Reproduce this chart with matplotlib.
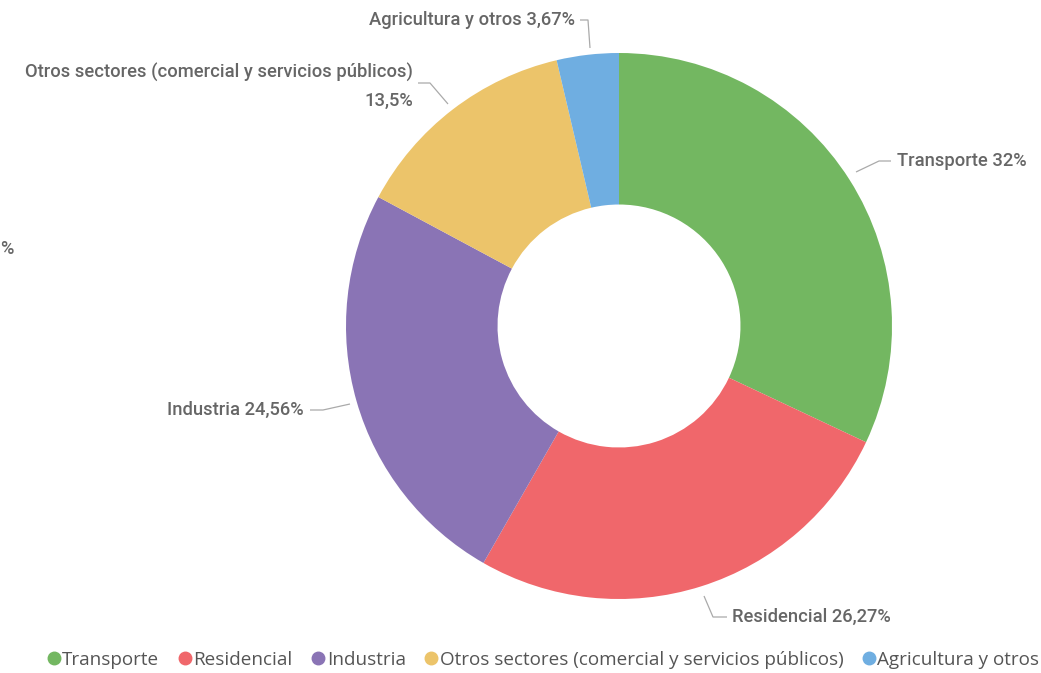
import matplotlib.pyplot as plt
from matplotlib.lines import Line2D

# data
sectors = ['Transporte', 'Residencial', 'Industria',
           'Otros sectores (comercial y servicios públicos)', 'Agricultura y otros']
shares = [32, 26.27, 24.56, 13.5, 3.67]
share_labels = ['32%', '26,27%', '24,56%', '13,5%', '3,67%']
colors = ['#73B761', '#F0676B', '#8A74B5', '#ECC46A', '#6FAEE1']

W, H = 1041, 673
fig = plt.figure(figsize=(W / 100, H / 100), dpi=100)
ax = fig.add_axes([0, 0, 1, 1])

cx, cy, r = 619, H - 326, 273
wedges, _ = ax.pie(shares, colors=colors, startangle=90, counterclock=False,
                   center=(cx, cy), radius=r, frame=True,
                   wedgeprops=dict(width=r * 0.555, edgecolor='none'))
ax.set_xlim(0, W)
ax.set_ylim(0, H)
ax.axis('off')

txt = '#666666'
lc = '#AAAAAA'
font = dict(family='Roboto', fontsize=13.2, color=txt, fontweight='medium')

def leader(points):
    xs = [p[0] for p in points]
    ys = [H - p[1] for p in points]
    ax.plot(xs, ys, color=lc, lw=0.9, solid_capstyle='butt')

# Transporte
leader([(856, 172), (879, 161), (891, 161)])
ax.text(897, H - 161, f'{sectors[0]} {share_labels[0]}', ha='left', va='center', **font)
# Residencial
leader([(704, 596), (713, 617), (727, 617)])
ax.text(732, H - 617, f'{sectors[1]} {share_labels[1]}', ha='left', va='center', **font)
# Industria
leader([(310, 410), (323, 410), (350, 404)])
ax.text(304, H - 410, f'{sectors[2]} {share_labels[2]}', ha='right', va='center', **font)
# Otros sectores
leader([(418, 83), (430, 83), (448, 104)])
ax.text(413, H - 73, sectors[3], ha='right', va='center', **font)
ax.text(413, H - 101, share_labels[3], ha='right', va='center', **font)
# Agricultura
leader([(580, 20), (588, 20), (590, 48)])
ax.text(575, H - 20, f'{sectors[4]} {share_labels[4]}', ha='right', va='center', **font)

# label fragment from a neighbouring visual at the left edge
ax.text(0, H - 249, '%', ha='left', va='center', **font)

handles = [Line2D([], [], marker='o', ls='none', color=c, markersize=9) for c in colors]
fig.legend(handles, sectors, loc='center', bbox_to_anchor=(541 / W, 1 - 660 / H),
           ncol=5, frameon=False, handletextpad=-0.15, columnspacing=0.75,
           handlelength=1.2, borderpad=0,
           prop=dict(family='Open Sans', size=13.6), labelcolor='#555555')

fig.savefig('out.png', dpi=100)
